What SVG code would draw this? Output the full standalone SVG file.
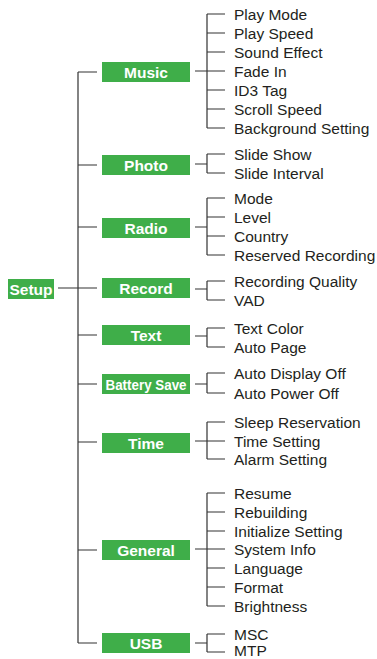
<svg xmlns="http://www.w3.org/2000/svg" width="377" height="659" viewBox="0 0 377 659">
<style>
.box{fill:#3fae49}
.lbl{font-family:"Liberation Sans",Arial,sans-serif;font-weight:bold;font-size:15.5px;fill:#ffffff;text-anchor:middle}
.item{font-family:"Liberation Sans",Arial,sans-serif;font-size:15.5px;fill:#231f20}
.ln{stroke:#333333;stroke-width:1.2;fill:none}
</style>
<rect width="377" height="659" fill="#ffffff"/>
<g id="connectors">
<path class="ln" d="M78,72 V643 M58,288 H97 M78,72 H97 M78,165 H97 M78,227 H97 M78,335 H97 M78,384 H97 M78,442 H97 M78,550 H97 M78,643 H97"/>
<path class="ln" d="M195,71 H207 M207,14 V128 M207,14 H225 M207,33 H225 M207,52 H225 M207,71 H225 M207,90 H225 M207,109 H225 M207,128 H225"/>
<path class="ln" d="M195,164 H207 M207,154 V173 M207,154 H225 M207,173 H225"/>
<path class="ln" d="M195,227 H207 M207,198 V255 M207,198 H225 M207,217 H225 M207,236 H225 M207,255 H225"/>
<path class="ln" d="M195,289 H207 M207,281 V300 M207,281 H225 M207,300 H225"/>
<path class="ln" d="M195,336 H207 M207,328 V347 M207,328 H225 M207,347 H225"/>
<path class="ln" d="M195,384 H207 M207,373 V393 M207,373 H225 M207,393 H225"/>
<path class="ln" d="M195,441 H207 M207,422 V459 M207,422 H225 M207,441 H225 M207,459 H225"/>
<path class="ln" d="M195,549 H207 M207,493 V606 M207,493 H225 M207,512 H225 M207,531 H225 M207,549 H225 M207,568 H225 M207,587 H225 M207,606 H225"/>
<path class="ln" d="M195,643 H207 M207,634 V652 M207,634 H225 M207,652 H225"/>
</g>
<g id="setup"><rect class="box" x="8" y="279" width="46" height="20"/><text class="lbl" x="31" y="294.5">Setup</text></g>
<g id="music"><rect class="box" x="102" y="62" width="88" height="20"/><text class="lbl" x="146" y="77.5">Music</text></g>
<g id="photo"><rect class="box" x="102" y="155" width="88" height="20"/><text class="lbl" x="146" y="170.5">Photo</text></g>
<g id="radio"><rect class="box" x="102" y="218" width="88" height="20"/><text class="lbl" x="146" y="233.5">Radio</text></g>
<g id="record"><rect class="box" x="102" y="278" width="88" height="20"/><text class="lbl" x="146" y="293.5">Record</text></g>
<g id="text"><rect class="box" x="102" y="325" width="88" height="20"/><text class="lbl" x="146" y="340.5">Text</text></g>
<g id="battery"><rect class="box" x="102" y="374" width="88" height="20"/><text class="lbl" x="146" y="389.5" textLength="81" lengthAdjust="spacingAndGlyphs">Battery Save</text></g>
<g id="time"><rect class="box" x="102" y="433" width="88" height="20"/><text class="lbl" x="146" y="448.5">Time</text></g>
<g id="general"><rect class="box" x="102" y="540" width="88" height="20"/><text class="lbl" x="146" y="555.5">General</text></g>
<g id="usb"><rect class="box" x="102" y="633" width="88" height="20"/><text class="lbl" x="146" y="648.5">USB</text></g>
<g id="music-items">
<text class="item" x="234" y="19.5">Play Mode</text>
<text class="item" x="234" y="38.5">Play Speed</text>
<text class="item" x="234" y="57.5">Sound Effect</text>
<text class="item" x="234" y="76.5">Fade In</text>
<text class="item" x="234" y="95.5">ID3 Tag</text>
<text class="item" x="234" y="114.5">Scroll Speed</text>
<text class="item" x="234" y="133.5">Background Setting</text>
</g>
<g id="photo-items">
<text class="item" x="234" y="159.5">Slide Show</text>
<text class="item" x="234" y="178.5">Slide Interval</text>
</g>
<g id="radio-items">
<text class="item" x="234" y="203.5">Mode</text>
<text class="item" x="234" y="222.5">Level</text>
<text class="item" x="234" y="241.5">Country</text>
<text class="item" x="234" y="260.5">Reserved Recording</text>
</g>
<g id="record-items">
<text class="item" x="234" y="286.5">Recording Quality</text>
<text class="item" x="234" y="305.5">VAD</text>
</g>
<g id="text-items">
<text class="item" x="234" y="333.5">Text Color</text>
<text class="item" x="234" y="352.5">Auto Page</text>
</g>
<g id="battery-items">
<text class="item" x="234" y="378.5">Auto Display Off</text>
<text class="item" x="234" y="398.5">Auto Power Off</text>
</g>
<g id="time-items">
<text class="item" x="234" y="427.5">Sleep Reservation</text>
<text class="item" x="234" y="446.5">Time Setting</text>
<text class="item" x="234" y="464.5">Alarm Setting</text>
</g>
<g id="general-items">
<text class="item" x="234" y="498.5">Resume</text>
<text class="item" x="234" y="517.5">Rebuilding</text>
<text class="item" x="234" y="536.5">Initialize Setting</text>
<text class="item" x="234" y="554.5">System Info</text>
<text class="item" x="234" y="573.5">Language</text>
<text class="item" x="234" y="592.5">Format</text>
<text class="item" x="234" y="611.5">Brightness</text>
</g>
<g id="usb-items">
<text class="item" x="234" y="639.5">MSC</text>
<text class="item" x="234" y="655.5">MTP</text>
</g>
</svg>
